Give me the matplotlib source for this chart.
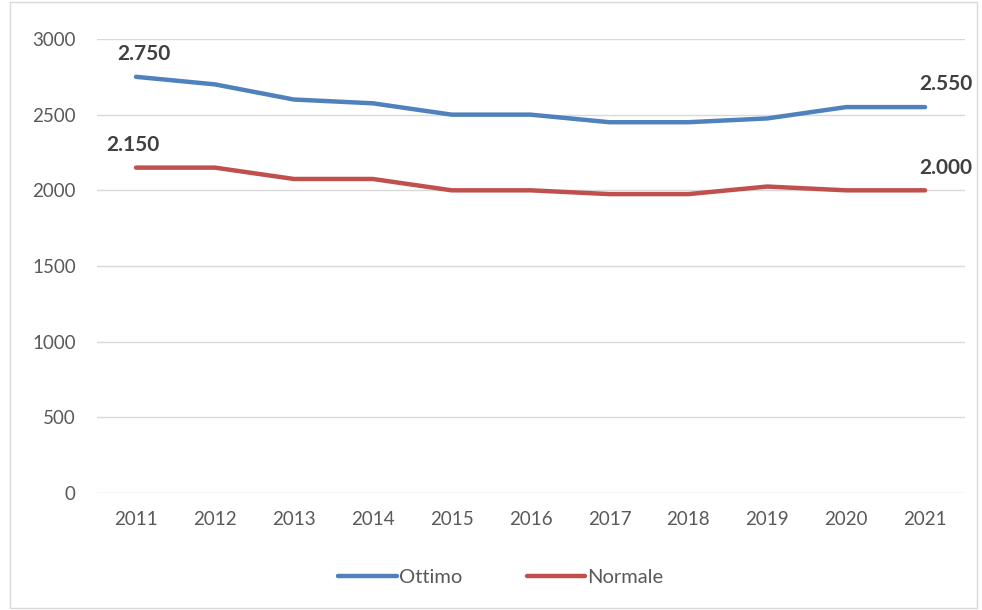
import matplotlib.pyplot as plt
from matplotlib.patches import Rectangle

plt.rcParams['font.family'] = ['Lato', 'DejaVu Sans']

anni = ["2011", "2012", "2013", "2014", "2015", "2016", "2017", "2018", "2019", "2020", "2021"]
ottimo = [2750, 2700, 2600, 2575, 2500, 2500, 2450, 2450, 2475, 2550, 2550]
normale = [2150, 2150, 2075, 2075, 2000, 2000, 1975, 1975, 2025, 2000, 2000]
y_ticks = [0, 500, 1000, 1500, 2000, 2500, 3000]

blu = "#4F81BD"
rosso = "#C0504D"
testo = "#595959"

fig = plt.figure(figsize=(9.82, 6.10), dpi=100)
ax = fig.add_axes([0.0983, 0.1918, 0.8839, 0.7443])

# cornice esterna del grafico
fig.patches.append(Rectangle((0.010, 0.003), 0.985, 0.994, transform=fig.transFigure,
                             fill=False, edgecolor="#D9D9D9", linewidth=1))

x = range(len(anni))
ax.plot(x, ottimo, color=blu, linewidth=3.2, solid_capstyle="round", label="Ottimo")
ax.plot(x, normale, color=rosso, linewidth=3.2, solid_capstyle="round", label="Normale")

ax.set_xlim(-0.5, len(anni) - 0.5)
ax.set_ylim(0, 3000)
ax.set_yticks(y_ticks)
ax.set_yticklabels([str(v) for v in y_ticks])
ax.set_xticks(list(x))
ax.set_xticklabels(anni)
ax.tick_params(axis="both", length=0, labelsize=13.5, colors=testo)
ax.tick_params(axis="y", pad=15)
ax.tick_params(axis="x", pad=13)

ax.grid(axis="y", color="#D9D9D9", linewidth=1)
ax.set_axisbelow(True)
for s in ax.spines.values():
    s.set_visible(False)

def etichetta(v):
    return f"{v:,}".replace(",", ".")

lab_style = dict(textcoords="offset points", fontsize=15, fontweight="bold",
                 color="#404040", ha="center")
ax.annotate(etichetta(ottimo[0]), (0, ottimo[0]), xytext=(6, 12), **lab_style)
ax.annotate(etichetta(normale[0]), (0, normale[0]), xytext=(-2, 12), **lab_style)
ax.annotate(etichetta(ottimo[-1]), (10, ottimo[-1]), xytext=(15, 12), **lab_style)
ax.annotate(etichetta(normale[-1]), (10, normale[-1]), xytext=(15, 12), **lab_style)

leg = fig.legend(loc="center", bbox_to_anchor=(0.51, 0.054), ncol=2, frameon=False,
                 handlelength=2.9, handletextpad=0.1, columnspacing=3.2,
                 fontsize=14.5)
for t in leg.get_texts():
    t.set_color(testo)

plt.savefig("out.png", dpi=100)
